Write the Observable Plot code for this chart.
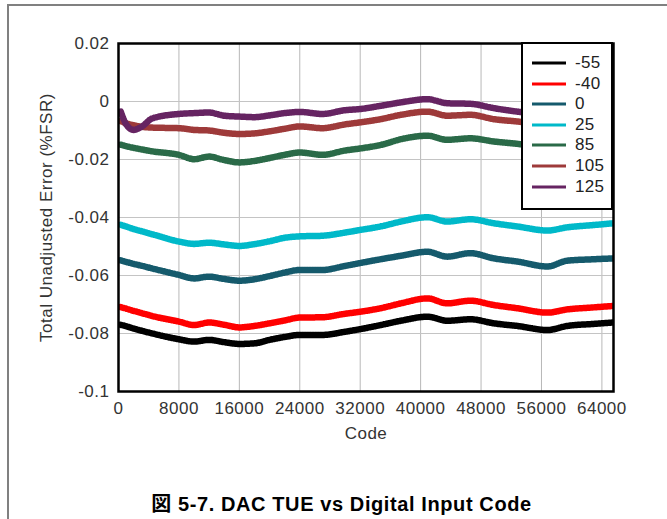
<!DOCTYPE html>
<html><head><meta charset="utf-8">
<script src="https://cdn.jsdelivr.net/npm/d3@7"></script>
<script src="https://cdn.jsdelivr.net/npm/@observablehq/plot@0.6"></script>
<style>
body{margin:0;background:#fff;width:667px;height:519px;overflow:hidden;position:relative;font-family:"Liberation Sans",Arial,"Noto Sans CJK JP",sans-serif;}
#frame{position:absolute;left:7px;top:4px;width:680px;height:600px;border-left:2px solid #808080;border-top:2px solid #808080;}
#chart{position:absolute;left:0;top:0;}
#chart svg text{letter-spacing:0.5px;}
#legend{position:absolute;left:521px;top:42px;width:88px;height:164px;border:2px solid #000;background:#fff;}
#legend .row{position:absolute;left:0;height:20px;display:flex;align-items:center;}
#legend .row span{font-size:17px;color:#222;margin-left:8px;letter-spacing:0.3px;}
#caption{position:absolute;left:8px;width:667px;top:494px;line-height:21px;text-align:center;font-weight:bold;font-size:20px;letter-spacing:0.6px;color:#000;font-family:"Liberation Sans","Noto Sans CJK JP",sans-serif;}
</style>
</head><body>
<div id="frame"></div>
<div id="chart"></div>
<div id="legend"></div>
<div id="caption">図 5-7. DAC TUE vs Digital Input Code</div>
<script>
const codes = [300, 1000, 2000, 3000, 4500, 8000, 10000, 12000, 14000, 16000, 18000, 20000, 22000, 24000, 27000, 30000, 32000, 34700, 37400, 40900, 43500, 46600, 49700, 52800, 56800, 59400, 62900, 65535];

const tueM55 = [-0.0770, -0.0775, -0.0783, -0.0790, -0.0800, -0.0820, -0.0828, -0.0822, -0.0830, -0.0836, -0.0834, -0.0822, -0.0812, -0.0805, -0.0805, -0.0794, -0.0785, -0.0771, -0.0756, -0.0742, -0.0756, -0.0751, -0.0765, -0.0774, -0.0788, -0.0774, -0.0767, -0.0762];
const tueM40 = [-0.0709, -0.0714, -0.0722, -0.0729, -0.0740, -0.0759, -0.0771, -0.0762, -0.0770, -0.0779, -0.0774, -0.0765, -0.0755, -0.0745, -0.0744, -0.0732, -0.0725, -0.0713, -0.0696, -0.0679, -0.0696, -0.0687, -0.0702, -0.0713, -0.0728, -0.0717, -0.0710, -0.0705];
const tue0 = [-0.0548, -0.0553, -0.0560, -0.0566, -0.0576, -0.0598, -0.0610, -0.0604, -0.0612, -0.0618, -0.0613, -0.0602, -0.0590, -0.0581, -0.0581, -0.0567, -0.0557, -0.0544, -0.0532, -0.0518, -0.0535, -0.0523, -0.0541, -0.0552, -0.0569, -0.0549, -0.0544, -0.0541];
const tue25 = [-0.0425, -0.0431, -0.0440, -0.0447, -0.0458, -0.0483, -0.0491, -0.0487, -0.0493, -0.0498, -0.0492, -0.0482, -0.0470, -0.0465, -0.0463, -0.0452, -0.0443, -0.0431, -0.0414, -0.0399, -0.0414, -0.0406, -0.0420, -0.0431, -0.0445, -0.0434, -0.0426, -0.0420];
const tue85 = [-0.0149, -0.0154, -0.0160, -0.0165, -0.0172, -0.0184, -0.0199, -0.0190, -0.0202, -0.0210, -0.0205, -0.0195, -0.0184, -0.0176, -0.0184, -0.0169, -0.0162, -0.0150, -0.0130, -0.0118, -0.0132, -0.0127, -0.0138, -0.0146, -0.0160, -0.0150, -0.0145, -0.0140];
const tue105 = [-0.0068, -0.0075, -0.0082, -0.0087, -0.0090, -0.0092, -0.0098, -0.0100, -0.0108, -0.0112, -0.0110, -0.0103, -0.0094, -0.0086, -0.0092, -0.0079, -0.0072, -0.0061, -0.0046, -0.0035, -0.0049, -0.0046, -0.0061, -0.0069, -0.0080, -0.0072, -0.0068, -0.0065];
const tue125 = [-0.0035, -0.0078, -0.0098, -0.0088, -0.0058, -0.0043, -0.0040, -0.0038, -0.0049, -0.0052, -0.0054, -0.0048, -0.0040, -0.0036, -0.0043, -0.0030, -0.0026, -0.0015, -0.0003, 0.0008, -0.0006, -0.0008, -0.0023, -0.0035, -0.0045, -0.0038, -0.0033, -0.0030];

const temps = ["-55", "-40", "0", "25", "85", "105", "125"];
const colors = ["#000000", "#ff0000", "#155a6c", "#00b9c9", "#2a6a48", "#9e3a3a", "#662462"];
const xTicks = [0, 8000, 16000, 24000, 32000, 40000, 48000, 56000, 64000];
const yTicks = [0.02, 0, -0.02, -0.04, -0.06, -0.08, -0.1];
const yTickLabels = ["0.02", "0", "-0.02", "-0.04", "-0.06", "-0.08", "-0.1"];

const series = [tueM55, tueM40, tue0, tue25, tue85, tue105, tue125];
const data = temps.flatMap((t, i) => codes.map((c, j) => ({code: c, tue: series[i][j], temp: t})));

const chart = Plot.plot({
  width: 667, height: 460,
  marginLeft: 118, marginRight: 54, marginTop: 43, marginBottom: 69,
  style: {fontFamily: "Liberation Sans, Arial, sans-serif", fontSize: "17px", color: "#333", background: "transparent", overflow: "visible"},
  x: {domain: [0, 65536]},
  y: {domain: [-0.1, 0.02]},
  color: {domain: temps, range: colors},
  marks: [
    Plot.gridX(xTicks, {stroke: "#b8b8b8", strokeOpacity: 1, strokeWidth: 1}),
    Plot.gridY(yTicks, {stroke: "#c4c4c4", strokeOpacity: 1, strokeWidth: 1}),
    Plot.line(data, {x: "code", y: "tue", z: "temp", stroke: "temp", strokeWidth: 4.2, curve: "monotone-x", clip: true}),
    Plot.line(data, {x: "code", y: "tue", z: "temp", stroke: "temp", strokeWidth: 6.5, strokeDasharray: "1,1.6", curve: "monotone-x", clip: true}),
    Plot.axisX(xTicks, {tickSize: 0, tickPadding: 10, tickFormat: d => String(d), label: null, fill: "#333", fontSize: 17}),
    Plot.axisY(yTicks, {tickSize: 0, tickPadding: 9, tickFormat: d => yTickLabels[yTicks.indexOf(d)], label: null, fill: "#333", fontSize: 17}),
    Plot.text(["Code"], {frameAnchor: "bottom", dy: 42, lineAnchor: "middle", fill: "#333", fontSize: 17}),
    Plot.text(["Total Unadjusted Error (%FSR)"], {frameAnchor: "left", dx: -72, rotate: -90, textAnchor: "middle", lineAnchor: "middle", fill: "#333", fontSize: 17}),
    Plot.frame({stroke: "#000", strokeWidth: 2.5})
  ]
});
document.getElementById("chart").appendChild(chart);

const legend = document.getElementById("legend");
temps.forEach((t, i) => {
  const row = document.createElement("div");
  row.className = "row";
  row.style.top = (9 + i * 20.6) + "px";
  row.innerHTML = `<svg width="44" height="20"><line x1="9" x2="43" y1="10" y2="10" stroke="${colors[i]}" stroke-width="3"/></svg><span>${t}</span>`;
  legend.appendChild(row);
});
</script>
</body></html>
